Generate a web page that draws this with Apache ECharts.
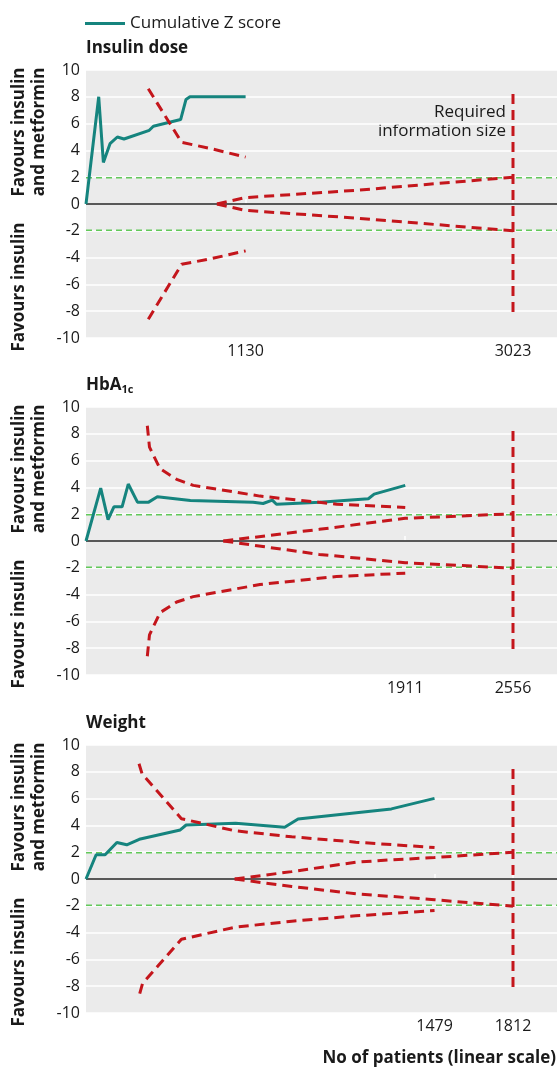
<!DOCTYPE html>
<html>
<head>
<meta charset="utf-8">
<script src="https://cdn.jsdelivr.net/npm/echarts@6/dist/echarts.min.js"></script>
<style>
  html, body { margin: 0; padding: 0; background: #fff; }
  #chart { width: 557px; height: 1070px; }
</style>
</head>
<body>
<div id="chart"></div>
<script>
// Trial sequential analysis: insulin + metformin vs insulin alone
// Each panel: [no of patients, Z] pairs

// --- Insulin dose ---
const insulinZ = [[0,0],[90,8.0],[123,3.1],[170,4.5],[222,5.0],[269,4.85],[448,5.5],[477,5.8],[670,6.3],[708,7.8],[736,8.0],[1130,8.0]];
const insulinUpper = [[441,8.6],[677,4.6],[878,4.15],[1130,3.5]];
const insulinLower = [[441,-8.6],[677,-4.5],[878,-4.1],[1130,-3.5]];
const insulinInnerUp = [[927,0],[1130,0.48],[1911,1.02],[3023,2.0]];
const insulinInnerLo = [[927,0],[1130,-0.48],[1911,-1.05],[3023,-2.0]];
const insulinRIS = 3023;
const insulinEnd = 1130;

// --- HbA1c ---
const hbaZ = [[0,0],[88,3.95],[132,1.6],[167,2.55],[216,2.55],[253,4.25],[308,2.9],[375,2.9],[427,3.3],[625,3.02],[1000,2.9],[1060,2.8],[1115,3.05],[1140,2.74],[1400,2.9],[1690,3.15],[1725,3.5],[1911,4.15]];
const hbaUpper = [[367,8.6],[380,7.0],[443,5.4],[543,4.6],[642,4.15],[1041,3.35],[1500,2.75],[1911,2.5]];
const hbaLower = [[367,-8.6],[380,-7.0],[443,-5.35],[543,-4.55],[642,-4.15],[1041,-3.25],[1500,-2.65],[1911,-2.4]];
const hbaInnerUp = [[822,0],[1396,0.87],[1911,1.69],[2556,2.03]];
const hbaInnerLo = [[822,0],[1396,-1.0],[1911,-1.62],[2556,-2.03]];
const hbaRIS = 2556;
const hbaEnd = 1911;

// --- Weight ---
const weightZ = [[0,0],[43,1.81],[81,1.81],[131,2.73],[173,2.55],[226,2.96],[400,3.66],[425,4.03],[635,4.16],[843,3.86],[900,4.48],[1296,5.23],[1479,6.02]];
const weightUpper = [[225,8.6],[238,7.85],[405,4.5],[631,3.6],[873,3.15],[1145,2.75],[1479,2.35]];
const weightLower = [[228,-8.55],[240,-7.8],[405,-4.5],[631,-3.6],[873,-3.15],[1145,-2.75],[1479,-2.35]];
const weightInnerUp = [[631,0],[873,0.55],[1145,1.25],[1296,1.43],[1479,1.6],[1812,2.0]];
const weightInnerLo = [[631,0],[873,-0.56],[1145,-1.1],[1296,-1.3],[1479,-1.55],[1812,-2.03]];
const weightRIS = 1812;
const weightEnd = 1479;

const yTicks = [-10, -8, -6, -4, -2, 0, 2, 4, 6, 8, 10];
const risSpan = 8.2;     // vertical extent of the required information size line
const zCrit = 1.96;      // conventional significance threshold

const panels = [
  { title: 'Insulin dose', z: insulinZ, up: insulinUpper, lo: insulinLower, iu: insulinInnerUp, il: insulinInnerLo, ris: insulinRIS, end: insulinEnd, top: 70 },
  { title: 'HbA{s|1c}',   z: hbaZ,     up: hbaUpper,     lo: hbaLower,     iu: hbaInnerUp,     il: hbaInnerLo,     ris: hbaRIS,     end: hbaEnd,     top: 407 },
  { title: 'Weight',      z: weightZ,  up: weightUpper,  lo: weightLower,  iu: weightInnerUp,  il: weightInnerLo,  ris: weightRIS,  end: weightEnd,  top: 745 }
];

const FONT = '"Open Sans", "Noto Sans", sans-serif';
const TEXT = '#1a1a1a';
const TEAL = '#15847e';
const RED = '#c4161c';
const GREEN = '#62c95a';
const PLOT_H = 268;
const PLOT_W = 471;
const RIS_FRACTION = 427 / 471;   // RIS sits at the same horizontal spot in every panel

const grids = [], xAxes = [], yAxes = [], series = [], graphics = [];

panels.forEach((p, i) => {
  const xMax = p.ris / RIS_FRACTION;
  grids.push({ left: 86, top: p.top, width: PLOT_W, height: PLOT_H, show: true, backgroundColor: '#ebebeb', borderWidth: 0 });
  xAxes.push({
    type: 'value', gridIndex: i, min: 0, max: xMax,
    splitLine: { show: false }, axisLine: { show: false },
    axisTick: { show: true, inside: true, length: 5, lineStyle: { color: '#fff', width: 1.5 }, customValues: [p.end, p.ris] },
    axisLabel: { customValues: [p.end, p.ris], formatter: v => String(Math.round(v)), fontSize: 16, color: TEXT, fontFamily: FONT, margin: 5 }
  });
  yAxes.push({
    type: 'value', gridIndex: i, min: yTicks[0], max: yTicks[yTicks.length - 1], interval: 2,
    axisLine: { show: false }, axisTick: { show: false },
    splitLine: { lineStyle: { color: '#ffffff', width: 1.5 } },
    axisLabel: { fontSize: 16, color: TEXT, fontFamily: FONT, margin: 6 }
  });

  const base = { type: 'line', xAxisIndex: i, yAxisIndex: i, showSymbol: false, symbol: 'none', silent: true, animation: false };
  series.push(Object.assign({}, base, { name: 'zero', data: [[0, 0], [xMax, 0]], lineStyle: { color: '#222', width: 1.3 } }));
  series.push(Object.assign({}, base, { name: 'sig+', data: [[0, zCrit], [xMax, zCrit]], lineStyle: { color: GREEN, width: 1.5, type: [6, 4] } }));
  series.push(Object.assign({}, base, { name: 'sig-', data: [[0, -zCrit], [xMax, -zCrit]], lineStyle: { color: GREEN, width: 1.5, type: [6, 4] } }));
  series.push(Object.assign({}, base, { name: 'Cumulative Z score', data: p.z, lineStyle: { color: TEAL, width: 3 }, itemStyle: { color: TEAL } }));
  const redStyle = { color: RED, width: 3, type: [10, 6] };
  [p.up, p.lo, p.iu, p.il].forEach((d, k) => {
    series.push(Object.assign({}, base, { name: 'bound' + k, data: d, lineStyle: redStyle }));
  });
  series.push(Object.assign({}, base, { name: 'ris', data: [[p.ris, risSpan], [p.ris, -risSpan]], lineStyle: redStyle }));

  const zeroY = p.top + PLOT_H / 2;
  // panel title
  graphics.push({
    type: 'text', left: 86, top: p.top - 30,
    style: {
      text: p.title, font: 'bold 17px ' + FONT, fill: TEXT,
      rich: { s: { fontSize: 11, fontWeight: 'bold', fontFamily: FONT, fill: TEXT, padding: [9, 0, 0, 0] } }
    }
  });
  // direction labels on the Z axis
  graphics.push({
    type: 'text', x: 29, y: zeroY - 72, rotation: Math.PI / 2,
    style: { text: 'Favours insulin\nand metformin', font: 'bold 17px ' + FONT, fill: TEXT, align: 'center', verticalAlign: 'middle', lineHeight: 20 }
  });
  graphics.push({
    type: 'text', x: 19, y: zeroY + 83, rotation: Math.PI / 2,
    style: { text: 'Favours insulin', font: 'bold 17px ' + FONT, fill: TEXT, align: 'center', verticalAlign: 'middle' }
  });
});

graphics.push({
  type: 'text', x: 506, y: 122,
  style: { text: 'Required\ninformation size', font: '17px ' + FONT, fill: TEXT, align: 'right', verticalAlign: 'middle', lineHeight: 19 }
});
graphics.push({
  type: 'text', x: 556, y: 1058,
  style: { text: 'No of patients (linear scale)', font: 'bold 17px ' + FONT, fill: TEXT, align: 'right', verticalAlign: 'middle' }
});

const chart = echarts.init(document.getElementById('chart'), null, { renderer: 'canvas' });
chart.setOption({
  animation: false,
  backgroundColor: '#ffffff',
  legend: {
    data: [{ name: 'Cumulative Z score', icon: 'rect' }],
    left: 80, top: 10, itemWidth: 40, itemHeight: 3,
    textStyle: { fontSize: 17, color: TEXT, fontFamily: FONT }
  },
  grid: grids, xAxis: xAxes, yAxis: yAxes, series: series, graphic: graphics
});
</script>
</body>
</html>
